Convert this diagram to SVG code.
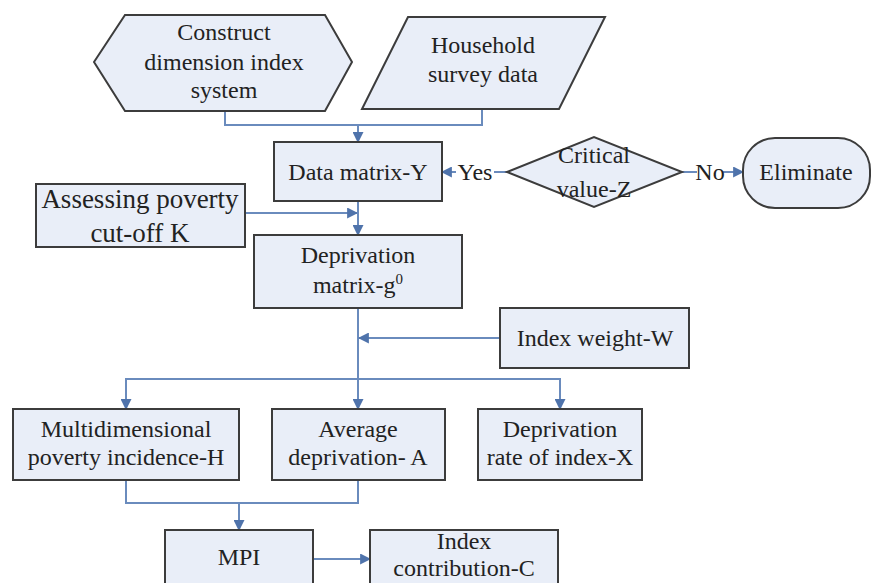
<svg xmlns="http://www.w3.org/2000/svg" width="873" height="583" viewBox="0 0 873 583">
<style>
.n{fill:#e9eef8;stroke:#3c3c3c;stroke-width:2}
.t{font-family:"Liberation Serif","Times New Roman",serif;font-size:24px;fill:#222;text-anchor:middle}
.c{fill:none;stroke:#6a8bbd;stroke-width:2}
</style>
<defs>
<marker id="a" viewBox="0 0 10 10" refX="9" refY="5" markerWidth="5.5" markerHeight="5.5" markerUnits="strokeWidth" orient="auto">
<path d="M0,0 L10,5 L0,10 z" fill="#4f73ab"/>
</marker>
</defs>
<rect width="873" height="583" fill="#fff"/>
<g id="connectors">
<path class="c" d="M225,111 V125 H482 V109"/>
<path class="c" d="M358,125 V142" marker-end="url(#a)"/>
<path class="c" d="M507,172 H494"/>
<path class="c" d="M456,172 H442" marker-end="url(#a)"/>
<path class="c" d="M682,172 H697"/>
<path class="c" d="M722,172 H743" marker-end="url(#a)"/>
<path class="c" d="M245,213 H357" marker-end="url(#a)"/>
<path class="c" d="M358,201 V235" marker-end="url(#a)"/>
<path class="c" d="M358,308 V409" marker-end="url(#a)"/>
<path class="c" d="M500,338 H359" marker-end="url(#a)"/>
<path class="c" d="M358,379 H126 V409" marker-end="url(#a)"/>
<path class="c" d="M358,379 H560 V409" marker-end="url(#a)"/>
<path class="c" d="M126,480 V503 H358 V480"/>
<path class="c" d="M239,503 V530" marker-end="url(#a)"/>
<path class="c" d="M313,559 H370" marker-end="url(#a)"/>
<text class="t" x="475" y="180">Yes</text>
<text class="t" x="710" y="180">No</text>
</g>
<g id="construct">
<polygon class="n" points="94,62 125,15 325,15 352,62 325,111 125,111"/>
<text class="t" x="224" y="40">Construct</text>
<text class="t" x="224" y="70">dimension index</text>
<text class="t" x="224" y="98">system</text>
</g>
<g id="household">
<polygon class="n" points="408,17 605,17 559,109 362,109"/>
<text class="t" x="483" y="53">Household</text>
<text class="t" x="483" y="82">survey data</text>
</g>
<g id="datamatrix">
<rect class="n" x="274" y="142" width="168" height="59"/>
<text class="t" x="358" y="180">Data matrix-Y</text>
</g>
<g id="critical">
<polygon class="n" points="507,172 594,137 682,172 594,207"/>
<text class="t" x="594" y="163">Critical</text>
<text class="t" x="594" y="197">value-Z</text>
</g>
<g id="eliminate">
<rect class="n" x="743" y="138" width="127" height="70" rx="32" ry="32"/>
<text class="t" x="806" y="180">Eliminate</text>
</g>
<g id="cutoff">
<rect class="n" x="36" y="184" width="209" height="63"/>
<text class="t" x="140" y="208" style="font-size:27px">Assessing poverty</text>
<text class="t" x="140" y="242" style="font-size:27px">cut-off K</text>
</g>
<g id="deprivation">
<rect class="n" x="254" y="235" width="208" height="73"/>
<text class="t" x="358" y="263">Deprivation</text>
<text class="t" x="358" y="293">matrix-g<tspan dy="-9" style="font-size:15px">0</tspan></text>
</g>
<g id="weight">
<rect class="n" x="500" y="308" width="189" height="60"/>
<text class="t" x="595" y="346">Index weight-W</text>
</g>
<g id="incidence">
<rect class="n" x="13" y="409" width="226" height="71"/>
<text class="t" x="126" y="437">Multidimensional</text>
<text class="t" x="126" y="465">poverty incidence-H</text>
</g>
<g id="average">
<rect class="n" x="272" y="409" width="173" height="71"/>
<text class="t" x="358" y="437">Average</text>
<text class="t" x="358" y="465">deprivation- A</text>
</g>
<g id="rate">
<rect class="n" x="478" y="409" width="164" height="71"/>
<text class="t" x="560" y="437">Deprivation</text>
<text class="t" x="560" y="465">rate of index-X</text>
</g>
<g id="mpi">
<rect class="n" x="165" y="530" width="148" height="60"/>
<text class="t" x="239" y="565">MPI</text>
</g>
<g id="contribution">
<rect class="n" x="370" y="530" width="188" height="60"/>
<text class="t" x="464" y="549">Index</text>
<text class="t" x="464" y="576">contribution-C</text>
</g>
</svg>
